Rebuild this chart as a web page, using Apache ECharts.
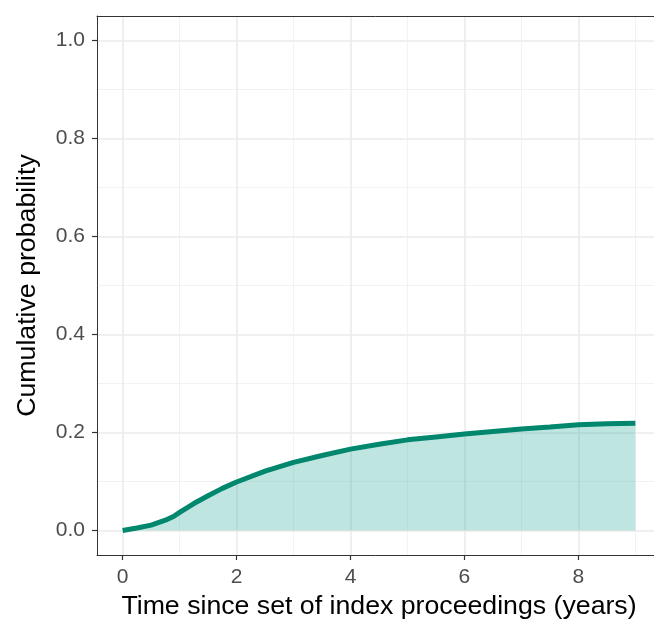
<!DOCTYPE html>
<html>
<head>
<meta charset="utf-8">
<script src="https://cdn.jsdelivr.net/npm/echarts@6/dist/echarts.min.js"></script>
<style>
  html, body { margin: 0; padding: 0; background: #fff; overflow: hidden; }
</style>
</head>
<body>
<div id="myChart" style="width:654px;height:621px;"></div>
<script>
// years since index proceedings
var years = [0, 0.25, 0.5, 0.75, 0.9, 1.0, 1.25, 1.5, 1.75, 2, 2.5, 3, 3.5, 4, 4.5, 5, 5.5, 6, 6.5, 7, 7.5, 8, 8.5, 9];
// cumulative probability
var cumProb = [0, 0.005, 0.011, 0.021, 0.029, 0.037, 0.055, 0.071, 0.086, 0.099, 0.121, 0.139, 0.153, 0.166, 0.176, 0.185, 0.191, 0.197, 0.202, 0.207, 0.211, 0.216, 0.218, 0.219];

var xMajor = [0, 2, 4, 6, 8];
var xMinor = [1, 3, 5, 7, 9];
var yMajor = [0, 0.2, 0.4, 0.6, 0.8, 1.0];
var yMinor = [0.1, 0.3, 0.5, 0.7, 0.9];

var points = years.map(function (x, i) { return [x, cumProb[i]]; });

var font = '"Liberation Sans", Arial, sans-serif';
var majorLine = { show: true, lineStyle: { color: '#ebebeb', width: 1.6 } };
var minorLine = { show: true, lineStyle: { color: '#f0f0f0', width: 0.9 } };

var myChart = echarts.init(document.getElementById('myChart'));
myChart.setOption({
  animation: false,
  grid: {
    left: 97, top: 16, width: 564, height: 539,
    outerBoundsMode: 'none',
    show: false
  },
  xAxis: [
    {
      type: 'value', min: -0.45, max: 9.45,
      name: 'Time since set of index proceedings (years)',
      nameLocation: 'middle', nameGap: 38,
      nameTextStyle: { color: '#000', fontSize: 26.7, fontFamily: font },
      axisLine: { show: true, onZero: false, lineStyle: { color: '#333', width: 1 } },
      axisTick: { show: true, length: 5, customValues: xMajor, lineStyle: { color: '#333', width: 1.2 } },
      axisLabel: { customValues: xMajor, color: '#4d4d4d', fontSize: 21, fontFamily: font, margin: 12 },
      splitLine: majorLine
    },
    {
      // minor grid + top panel border
      type: 'value', min: -0.45, max: 9.45, position: 'top',
      axisLine: { show: true, onZero: false, lineStyle: { color: '#333', width: 1 } },
      axisTick: { show: false, customValues: xMinor },
      axisLabel: { show: false, customValues: xMinor },
      splitLine: minorLine
    }
  ],
  yAxis: [
    {
      type: 'value', min: -0.05, max: 1.05,
      name: 'Cumulative probability',
      nameLocation: 'middle', nameGap: 56,
      nameTextStyle: { color: '#000', fontSize: 26.7, fontFamily: font },
      axisLine: { show: true, onZero: false, lineStyle: { color: '#333', width: 1 } },
      axisTick: { show: true, length: 5, customValues: yMajor, lineStyle: { color: '#333', width: 1.2 } },
      axisLabel: {
        customValues: yMajor, color: '#4d4d4d', fontSize: 21, fontFamily: font, margin: 12,
        formatter: function (v) { return v.toFixed(1); }
      },
      splitLine: majorLine
    },
    {
      type: 'value', min: -0.05, max: 1.05, position: 'left',
      axisLine: { show: false, onZero: false },
      axisTick: { show: false, customValues: yMinor },
      axisLabel: { show: false, customValues: yMinor },
      splitLine: minorLine
    }
  ],
  series: [
    {
      type: 'line',
      data: points,
      xAxisIndex: 0, yAxisIndex: 0,
      showSymbol: false,
      symbol: 'none',
      lineStyle: { color: '#00876e', width: 5 },
      areaStyle: { color: 'rgb(9,155,136)', opacity: 0.26 },
      z: 3
    }
  ]
});
window.onresize = function () { myChart.resize(); };
</script>
</body>
</html>
